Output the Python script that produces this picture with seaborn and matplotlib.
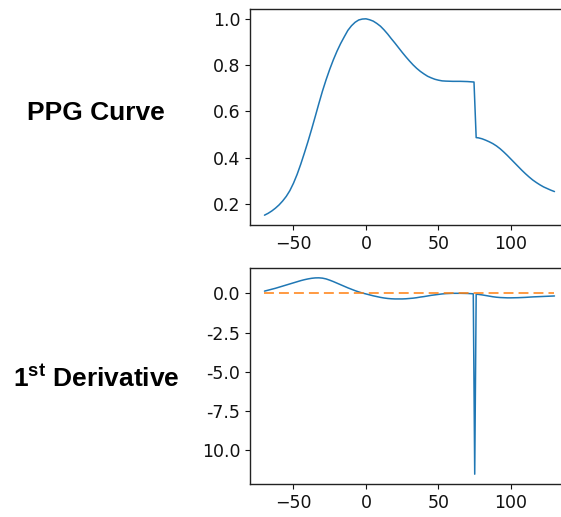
import matplotlib
matplotlib.use("Agg")
import matplotlib.pyplot as plt
import seaborn as sns

# --- data ---
ppg_x = [-70, -67.5, -65, -62.5, -60, -57.5, -55, -52.5, -50, -47.5, -45, -42.5,
         -40, -37.5, -35, -32.5, -30, -27.5, -25, -22.5, -20, -17.5, -15, -12.5,
         -10, -7.5, -5, -2.5, 0, 2.5, 5, 7.5, 10, 12.5, 15, 17.5, 20, 22.5, 25,
         27.5, 30, 32.5, 35, 37.5, 40, 42.5, 45, 47.5, 50, 52.5, 55, 60, 65, 70,
         74.5, 76, 77.5, 80, 82.5, 85, 87.5, 90, 92.5, 95, 97.5, 100, 102.5, 105,
         107.5, 110, 112.5, 115, 117.5, 120, 122.5, 125, 127.5, 130]
ppg_y = [0.152, 0.160, 0.170, 0.182, 0.196, 0.213, 0.233, 0.258, 0.290, 0.328,
         0.372, 0.420, 0.470, 0.523, 0.578, 0.634, 0.688, 0.737, 0.782, 0.823,
         0.860, 0.893, 0.922, 0.950, 0.970, 0.985, 0.995, 0.999, 1.000, 0.996,
         0.990, 0.980, 0.968, 0.952, 0.934, 0.914, 0.895, 0.875, 0.855, 0.836,
         0.818, 0.801, 0.786, 0.773, 0.762, 0.752, 0.745, 0.739, 0.735, 0.732,
         0.731, 0.730, 0.730, 0.729, 0.727, 0.487, 0.486, 0.482, 0.476, 0.469,
         0.461, 0.451, 0.439, 0.425, 0.410, 0.394, 0.378, 0.362, 0.346, 0.331,
         0.317, 0.304, 0.293, 0.283, 0.274, 0.267, 0.260, 0.254]

der_x = [-70, -67.5, -65, -62.5, -60, -57.5, -55, -52.5, -50, -47.5, -45, -42.5,
         -40, -37.5, -35, -32.5, -30, -27.5, -25, -22.5, -20, -17.5, -15, -12.5,
         -10, -7.5, -5, -2.5, 0, 2.5, 5, 7.5, 10, 12.5, 15, 17.5, 20, 22.5, 25,
         27.5, 30, 32.5, 35, 37.5, 40, 42.5, 45, 47.5, 50, 52.5, 55, 57.5, 60,
         65, 70, 74, 75, 76, 77.5, 80, 82.5, 85, 87.5, 90, 92.5, 95, 97.5, 100,
         105, 110, 115, 120, 125, 130]
der_y = [0.15, 0.21, 0.27, 0.33, 0.40, 0.47, 0.54, 0.61, 0.68, 0.75, 0.82, 0.88,
         0.93, 0.97, 0.995, 1.00, 0.98, 0.93, 0.85, 0.76, 0.66, 0.56, 0.46, 0.36,
         0.27, 0.18, 0.10, 0.03, -0.03, -0.09, -0.15, -0.20, -0.25, -0.29, -0.32,
         -0.34, -0.35, -0.35, -0.35, -0.34, -0.32, -0.30, -0.27, -0.23, -0.20,
         -0.16, -0.12, -0.09, -0.06, -0.03, -0.01, 0.00, 0.01,
         0.01, 0.00, -0.02, -11.56, -0.05, -0.06, -0.09, -0.13, -0.17, -0.21,
         -0.24, -0.26, -0.27, -0.28, -0.28, -0.27, -0.25, -0.22, -0.20, -0.18, -0.16]

zero_x = [-70, 130]
zero_y = [0, 0]

der_ticks = [0, -2.5, -5, -7.5, -10]
der_ticklabels = ["0.0", "-2.5", "-5.0", "-7.5", "10.0"]

row_labels = ["PPG Curve", r"$\mathbf{1^{st}}$ Derivative"]

sns.set_style("ticks")
plt.rcParams["font.family"] = "DejaVu Sans"
plt.rcParams["mathtext.fontset"] = "custom"
plt.rcParams["mathtext.bf"] = "Liberation Sans:bold"

fig = plt.figure(figsize=(5.61, 5.17), dpi=100)
ax1 = fig.add_axes([0.4456, 0.5648, 0.5686, 0.4178])
ax2 = fig.add_axes([0.4456, 0.0638, 0.5686, 0.4178])

sns.lineplot(x=ppg_x, y=ppg_y, ax=ax1, color="tab:blue", lw=1.1)

sns.lineplot(x=der_x, y=der_y, ax=ax2, color="tab:blue", lw=1.1)
sns.lineplot(x=zero_x, y=zero_y, ax=ax2, color="tab:orange", lw=1.1,
             dashes=False, linestyle=(0, (6.5, 3.3)))
ax2.set_yticks(der_ticks)
ax2.set_yticklabels(der_ticklabels)

for ax in (ax1, ax2):
    ax.set_xticks([-50, 0, 50, 100])
    ax.tick_params(labelsize=12.5, length=3.5, width=0.8, colors="#111111")
    for s in ax.spines.values():
        s.set_linewidth(1.0)
        s.set_color("#222222")

fig.text(0.0475, 0.7679, row_labels[0], fontsize=19, fontweight="bold",
         family="Liberation Sans", ha="left", va="baseline", color="black")
fig.text(0.0238, 0.2534, row_labels[1], fontsize=19, fontweight="bold",
         family="Liberation Sans", ha="left", va="baseline", color="black")

fig.savefig("out.png", dpi=100)
